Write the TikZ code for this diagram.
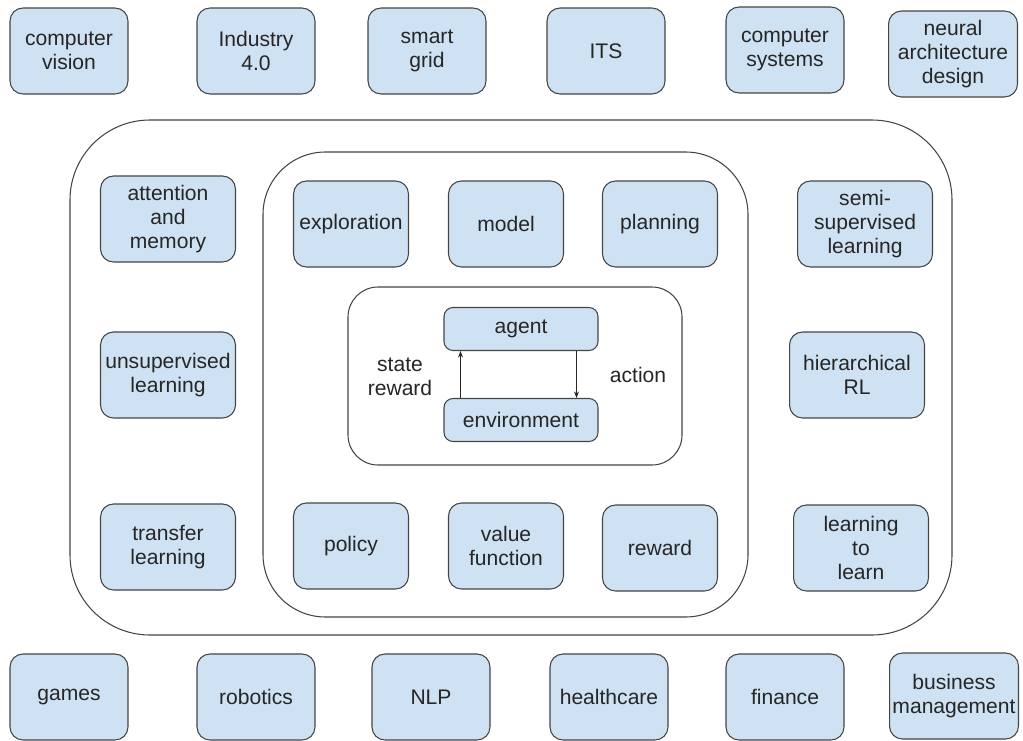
\documentclass[tikz,border=0pt]{standalone}
\usepackage{fontspec}
\setmainfont{Liberation Sans}
\usepackage{tikz}
\usetikzlibrary{arrows.meta}
\definecolor{boxblue}{HTML}{CFE2F3}
\definecolor{edgegray}{HTML}{444444}

\begin{document}
\begin{tikzpicture}[x=0.02cm, y=-0.02cm,
    topic/.style={draw=edgegray, line width=0.6pt, fill=boxblue,
      rounded corners=0.26cm, align=center, inner sep=0pt,
      font=\fontsize{12}{13.9}\selectfont, text=black!85,
      minimum height=1.72cm},
    app/.style={topic, minimum width=2.36cm},
    wideapp/.style={topic, minimum width=2.58cm},
    mltopic/.style={topic, minimum width=2.7cm},
    core/.style={topic, minimum width=2.3cm},
    loopbox/.style={topic, minimum width=3.08cm, minimum height=0.86cm,
      rounded corners=0.18cm},
    frame/.style={draw=edgegray, line width=0.6pt},
    flow/.style={draw=black!85, line width=0.5pt,
      -{Stealth[length=1.3mm, width=1mm]}},
    tag/.style={align=center, font=\fontsize{12}{13.9}\selectfont,
      text=black!85}]

\useasboundingbox (0,0) rectangle (1023,740);

% ---- frames ----
\draw[frame, rounded corners=1.6cm] (70,120) rectangle (952,635);
\draw[frame, rounded corners=1.25cm] (263,152) rectangle (748,617);
\draw[frame, rounded corners=0.6cm] (348,287) rectangle (682,465);

% ---- applications, top row ----
\node[app] (vision) at (69,51) {computer\\vision};
\node[app] (industry) at (256,51) {Industry\\4.0};
\node[app] (grid) at (427,51) {smart\\grid};
\node[app] (its) at (606,51) {ITS};
\node[app] (systems) at (785,50) {computer\\systems};
\node[wideapp] (nad) at (953,54) {neural\\architecture\\design};

% ---- applications, bottom row ----
\node[app] (games) at (69,697) {games};
\node[app] (robotics) at (256,697) {robotics};
\node[app] (nlp) at (431,697) {NLP};
\node[app] (health) at (609,697) {healthcare};
\node[app] (finance) at (785,697) {finance};
\node[wideapp] (business) at (954,696) {business\\management};

% ---- mechanisms, left and right ----
\node[mltopic] (attention) at (168,219) {attention\\and\\memory};
\node[mltopic] (unsup) at (168,375) {unsupervised\\learning};
\node[mltopic] (transfer) at (168,547) {transfer\\learning};
\node[mltopic] (semi) at (865,224) {semi-\\supervised\\learning};
\node[mltopic] (hrl) at (857,375) {hierarchical\\RL};
\node[mltopic] (l2l) at (861,548) {learning\\to\\learn};

% ---- core elements ----
\node[core] (explore) at (351,224) {exploration};
\node[core] (model) at (506,224) {model};
\node[core] (plan) at (660,224) {planning};
\node[core] (policy) at (351,546) {policy};
\node[core] (value) at (506,546) {value\\function};
\node[core] (reward) at (660,548) {reward};

% ---- agent / environment loop ----
\node[loopbox] (agent) at (521,329) {agent};
\node[loopbox] (env) at (521,420) {environment};
\draw[flow] ([xshift=0.34cm]env.north west) -- ([xshift=0.34cm]agent.south west);
\draw[flow] ([xshift=-0.44cm]agent.south east) -- ([xshift=-0.44cm]env.north east);
\node[tag] (obs) at (400,377) {state\\reward};
\node[tag] (act) at (638,375) {action};

\end{tikzpicture}
\end{document}
